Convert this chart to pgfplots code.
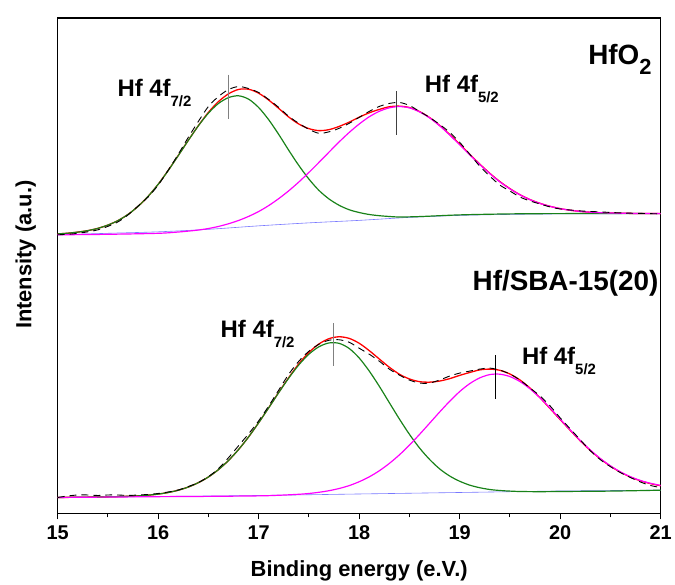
\documentclass[border=0pt]{standalone}
\usepackage{fontspec}
\setmainfont{Liberation Sans}
\usepackage{pgfplots}
\pgfplotsset{compat=1.18}
\definecolor{cgreen}{RGB}{25,130,25}
\definecolor{cmag}{RGB}{255,0,255}
\definecolor{cred}{RGB}{255,0,0}
\definecolor{cblue}{RGB}{120,120,255}
\newcommand{\subtxt}[1]{\raisebox{-0.42em}{\fontsize{15bp}{15bp}\selectfont #1}}
\begin{document}
\begin{tikzpicture}
\begin{axis}[
  name=ax, at={(0,0)}, anchor=south west,
  scale only axis, width=606bp, height=498bp,
  xmin=15, xmax=21, ymin=0, ymax=498,
  xtick={15,16,17,18,19,20,21},
  minor xtick={15.5,16.5,17.5,18.5,19.5,20.5},
  ytick=\empty,
  xtick pos=left,
  tick align=outside,
  major tick length=6bp, minor tick length=4bp,
  every tick/.style={black, line width=1bp},
  axis line style={line width=1.3bp},
  /pgf/number format/assume math mode=true,
  tick label style={font=\fontsize{20bp}{24bp}\selectfont\bfseries},
  xticklabel style={yshift=-3bp},
  label style={font=\fontsize{22bp}{26bp}\selectfont\bfseries},
  xlabel={Binding energy (e.V.)},
  ylabel={Intensity (a.u.)},
  xlabel style={at={(axis description cs:0.5,0)}, anchor=base, yshift=-63bp},
  ylabel style={at={(axis description cs:-0.053,0.522)}, anchor=center},
  every axis plot/.append style={no marks},
]
% ---------- HfO2 (top) ----------
\addplot[cblue, line width=0.6bp, smooth] coordinates {
(15.0,280) (15.5,281.5) (16.0,283) (16.5,285.5) (17.0,289) (17.5,292) (18.0,294.5) (18.5,297.5) (19.0,299.5) (19.5,300.5) (20.0,301) (21.0,301.3)};
\addplot[cred, line width=1.3bp, smooth] coordinates {
(15.0,280.9) (15.1,281.6) (15.2,282.7) (15.3,284.2) (15.4,286.5) (15.5,289.8) (15.6,294.3) (15.7,300.5) (15.8,308.6) (15.9,318.7) (16.0,330.8) (16.1,344.8) (16.2,359.8) (16.3,375.0) (16.4,389.7) (16.5,403.1) (16.6,413.9) (16.7,421.7) (16.8,426.1) (16.9,426.3) (17.0,422.3) (17.1,415.4) (17.2,407) (17.3,398.3) (17.4,391.3) (17.5,386.7) (17.6,384.7) (17.7,385.7) (17.8,388.9) (17.9,393.2) (18.0,398.2) (18.1,402.6) (18.2,406) (18.3,408.7) (18.4,409.3) (18.5,407.9) (18.6,403.9) (18.7,397.9) (18.8,390) (18.9,380.9) (19.0,371.2) (19.1,361) (19.2,351.1) (19.3,341.8) (19.4,333.5) (19.5,326.4) (19.6,320.3) (19.7,315.4) (19.8,311.6) (19.9,308.6) (20.0,306.3) (20.1,304.7) (20.2,303.5) (20.3,302.7) (20.4,302.2) (20.6,301.7) (20.8,301.4) (21.0,301.3)};
\addplot[cgreen, line width=1.2bp, smooth] coordinates {
(15.0,280.9) (15.1,281.6) (15.2,282.7) (15.3,284.2) (15.4,286.5) (15.5,289.8) (15.6,294.3) (15.7,300.5) (15.8,308.6) (15.9,318.7) (16.0,330.8) (16.1,344.6) (16.2,359.6) (16.3,374.9) (16.4,389.6) (16.5,402.3) (16.6,412) (16.7,417.9) (16.8,419.7) (16.9,416.3) (17.0,407.9) (17.1,395.6) (17.2,380.8) (17.3,364.8) (17.4,349.6) (17.5,336) (17.6,324.6) (17.7,316) (17.8,309.7) (17.9,305.2) (18.0,302.4) (18.1,300.4) (18.2,299.2) (18.3,298.4) (18.4,297.9) (18.6,298.3) (19.0,300) (19.5,301) (20.0,301.3) (21.0,301.3)};
\addplot[cmag, line width=1.2bp, smooth] coordinates {
(15.0,280) (15.5,280.5) (16.0,281.5) (16.2,282.8) (16.3,283.7) (16.4,284.8) (16.5,286.3) (16.6,288.4) (16.7,291.1) (16.8,294.4) (16.9,298.5) (17.0,303.4) (17.1,309.4) (17.2,316.4) (17.3,324.3) (17.4,333.1) (17.5,342.7) (17.6,352.8) (17.7,363.1) (17.8,373.3) (17.9,382.8) (18.0,391.3) (18.1,398.6) (18.2,404.1) (18.3,407.6) (18.4,408.9) (18.5,407.6) (18.6,403.6) (18.7,397.6) (18.8,389.7) (18.9,380.4) (19.0,370.5) (19.1,360.4) (19.2,350.7) (19.3,341.5) (19.4,333.2) (19.5,326.2) (19.6,320.2) (19.7,315.3) (19.8,311.5) (19.9,308.6) (20.0,306.3) (20.1,304.7) (20.2,303.5) (20.3,302.7) (20.4,302.2) (20.6,301.7) (20.8,301.4) (21.0,301.3)};
\addplot[black, line width=0.9bp, dash pattern=on 7bp off 5bp, smooth] coordinates {
(15.0,280) (15.1,280.5) (15.2,281.5) (15.3,283) (15.4,285) (15.5,288.5) (15.6,293) (15.7,300) (15.8,309) (15.9,318) (16.0,330) (16.1,345) (16.2,361) (16.3,378) (16.4,394) (16.5,409) (16.6,419) (16.7,426) (16.8,429) (16.9,427) (17.0,423) (17.1,416) (17.2,408) (17.3,399) (17.4,392) (17.5,386) (17.6,382) (17.7,383.5) (17.8,387) (17.9,392) (18.0,398) (18.1,404) (18.2,409) (18.3,412) (18.4,413) (18.5,410) (18.6,404) (18.7,398) (18.8,391) (18.9,383) (19.0,373) (19.1,361) (19.2,349) (19.3,339) (19.4,330) (19.5,324) (19.6,318) (19.7,314) (19.8,311) (19.9,308) (20.0,306) (20.2,304) (20.4,303) (20.6,302) (20.8,301.5) (21.0,301)};
\addplot[gray, line width=1bp] coordinates {(16.70,441) (16.70,396)};
\addplot[black!75, line width=1bp] coordinates {(18.37,424.3) (18.37,380)};
% ---------- Hf/SBA-15(20) (bottom) ----------
\addplot[cblue, line width=0.6bp, smooth] coordinates {
(15.0,16) (16.0,17) (17.0,18) (18.0,19.5) (19.0,21) (20.0,22.5) (21.0,23.3)};
\addplot[cred, line width=1.3bp, smooth] coordinates {
(15.0,16) (15.5,16.6) (15.8,17.6) (15.9,18.3) (16.0,19.4) (16.1,21) (16.2,23.3) (16.3,26.5) (16.4,30.9) (16.5,36.6) (16.6,44) (16.7,53.2) (16.8,64.2) (16.9,76.9) (17.0,91.2) (17.1,106.2) (17.2,121.8) (17.3,136.6) (17.4,150.5) (17.5,161.8) (17.6,170.3) (17.7,175.6) (17.8,177.5) (17.9,175.9) (18.0,171) (18.1,163.6) (18.2,155.2) (18.3,146.9) (18.4,139.9) (18.5,135.1) (18.6,132.4) (18.7,131.9) (18.8,133) (18.9,135.4) (19.0,138.7) (19.1,141.6) (19.2,144.2) (19.3,145) (19.4,143.8) (19.5,140.1) (19.6,134.1) (19.7,126) (19.8,116.2) (19.9,105.3) (20.0,94.3) (20.1,83.5) (20.2,72.9) (20.3,63.3) (20.4,54.8) (20.5,47.5) (20.6,41.4) (20.7,36.5) (20.8,32.7) (20.9,29.9) (21.0,27.8)};
\addplot[cgreen, line width=1.2bp, smooth] coordinates {
(15.0,16) (15.5,16.6) (15.8,17.6) (15.9,18.3) (16.0,19.4) (16.1,21) (16.2,23.3) (16.3,26.5) (16.4,30.9) (16.5,36.6) (16.6,44) (16.7,53.2) (16.8,64.2) (16.9,76.9) (17.0,91.1) (17.1,106.1) (17.2,121.4) (17.3,136.1) (17.4,149.3) (17.5,160) (17.6,167.5) (17.7,171.3) (17.8,170.9) (17.9,165.8) (18.0,156.2) (18.1,143.1) (18.2,127.8) (18.3,111.3) (18.4,94.9) (18.5,79.5) (18.6,65.8) (18.7,54.3) (18.8,44.8) (18.9,37.6) (19.0,32.3) (19.1,28.4) (19.2,25.8) (19.3,24) (19.4,23) (19.5,22.4) (19.6,22) (19.8,21.8) (20.0,22) (20.5,22.4) (21.0,23.3)};
\addplot[cmag, line width=1.2bp, smooth] coordinates {
(15.0,16) (15.5,16.4) (16.0,16.8) (16.5,17.1) (17.0,17.6) (17.2,18.2) (17.4,19.2) (17.5,20) (17.6,21.2) (17.7,22.8) (17.8,25) (17.9,27.9) (18.0,31.8) (18.1,36.7) (18.2,42.8) (18.3,50.2) (18.4,58.8) (18.5,68.6) (18.6,79.3) (18.7,90.5) (18.8,101.8) (18.9,112.6) (19.0,122.4) (19.1,130.4) (19.2,136.2) (19.3,139.5) (19.4,139.9) (19.5,137.5) (19.6,132.5) (19.7,125.2) (19.8,116.1) (19.9,105.8) (20.0,94.8) (20.1,83.9) (20.2,73.3) (20.3,63.7) (20.4,55.1) (20.5,47.8) (20.6,41.7) (20.7,36.8) (20.8,33) (20.9,30.2) (21.0,28.1)};
\addplot[black, line width=0.9bp, dash pattern=on 7bp off 5bp, smooth] coordinates {
(15.0,16) (15.1,17.5) (15.2,18.5) (15.3,18.5) (15.4,18) (15.5,18.5) (15.6,18.5) (15.7,18) (15.8,18.5) (15.9,19) (16.0,20) (16.1,21.5) (16.2,23.5) (16.3,27) (16.4,31) (16.5,37) (16.6,45) (16.7,56) (16.8,68) (16.9,80) (17.0,93) (17.1,108) (17.2,124) (17.3,140) (17.4,153) (17.5,163) (17.6,170) (17.7,174) (17.8,174.5) (17.9,172) (18.0,166) (18.1,160) (18.2,153) (18.3,145) (18.4,139) (18.5,134) (18.6,131) (18.7,131) (18.8,134) (18.9,138) (19.0,141) (19.1,143) (19.2,145) (19.3,146) (19.4,144) (19.5,140) (19.6,134) (19.7,126) (19.8,118) (19.9,108) (20.0,96) (20.1,85) (20.2,74) (20.3,63) (20.4,54) (20.5,47) (20.6,41) (20.7,36) (20.8,31.5) (20.9,28) (21.0,26)};
\addplot[gray, line width=1bp] coordinates {(17.74,191) (17.74,148)};
\addplot[black, line width=1bp] coordinates {(19.36,158.7) (19.36,115.3)};
% ---------- labels ----------
\node[anchor=base west, inner sep=0, font=\fontsize{24bp}{28bp}\selectfont\bfseries] at (axis cs:15.594,419) {Hf 4f\subtxt{7/2}};
\node[anchor=base west, inner sep=0, font=\fontsize{24bp}{28bp}\selectfont\bfseries] at (axis cs:18.653,423) {Hf 4f\subtxt{5/2}};
\node[anchor=base west, inner sep=0, font=\fontsize{24bp}{28bp}\selectfont\bfseries] at (axis cs:16.62,177) {Hf 4f\subtxt{7/2}};
\node[anchor=base west, inner sep=0, font=\fontsize{24bp}{28bp}\selectfont\bfseries] at (axis cs:19.62,150) {Hf 4f\subtxt{5/2}};
\node[anchor=base east, inner sep=0, font=\fontsize{28bp}{32bp}\selectfont\bfseries] at (axis cs:20.911,451) {HfO\raisebox{-0.36em}{\fontsize{22bp}{22bp}\selectfont 2}};
\node[anchor=base east, inner sep=0, font=\fontsize{28bp}{32bp}\selectfont\bfseries] at (axis cs:20.98,224.3) {Hf/SBA-15(20)};
\end{axis}
\path[use as bounding box] (-58bp,-68bp) rectangle (617bp,516bp);
\end{tikzpicture}
\end{document}
